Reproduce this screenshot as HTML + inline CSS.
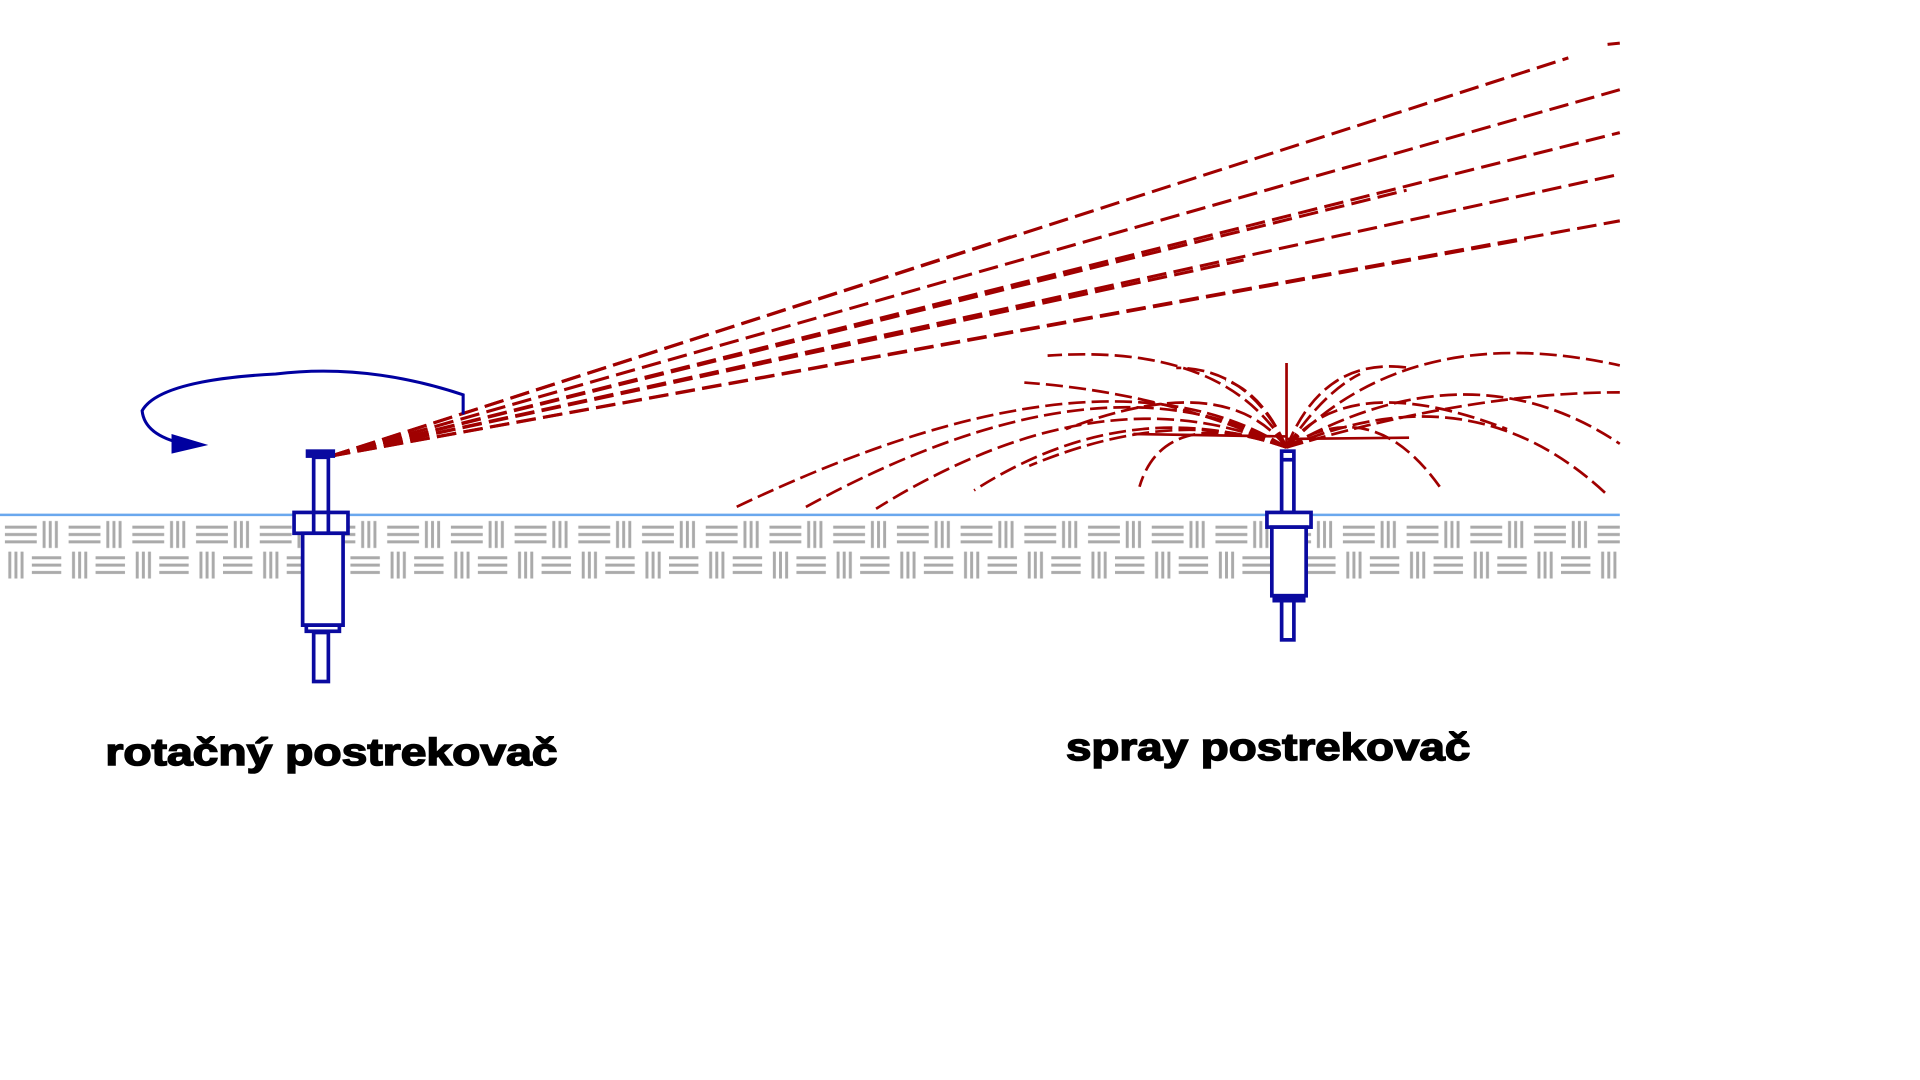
<!DOCTYPE html>
<html><head><meta charset="utf-8"><style>
html,body{margin:0;padding:0;background:#fff;width:1920px;height:1080px;overflow:hidden}
svg{display:block}
</style></head><body>
<svg width="1920" height="1080" viewBox="0 0 1567 881" xmlns="http://www.w3.org/2000/svg">
<defs>
<pattern id="soil" x="0" y="422" width="52" height="52" patternUnits="userSpaceOnUse">
 <g stroke="#aaaaaa" stroke-width="2.4">
  <line x1="4" y1="8" x2="30" y2="8"/>
  <line x1="4" y1="14" x2="30" y2="14"/>
  <line x1="4" y1="20" x2="30" y2="20"/>
  <line x1="36" y1="3" x2="36" y2="25"/><line x1="41" y1="3" x2="41" y2="25"/><line x1="46" y1="3" x2="46" y2="25"/>
  <line x1="26" y1="33" x2="50" y2="33"/><line x1="26" y1="39" x2="50" y2="39"/><line x1="26" y1="45" x2="50" y2="45"/>
  <line x1="8" y1="28" x2="8" y2="50"/><line x1="13" y1="28" x2="13" y2="50"/><line x1="18" y1="28" x2="18" y2="50"/>
 </g>
</pattern>
</defs>
<rect x="0" y="422" width="1322" height="50" fill="url(#soil)"/>
<line x1="0" y1="420" x2="1322" y2="420" stroke="#6aa8ee" stroke-width="2"/>

<g stroke="#a00000" stroke-width="2.5" fill="none" stroke-dasharray="16 6">
 <line x1="270" y1="372" x2="1280" y2="47"/>
 <line x1="270" y1="372" x2="1322" y2="73"/>
 <line x1="270" y1="372" x2="1322" y2="108"/>
 <line x1="270" y1="372" x2="1322" y2="142"/>
 <line x1="270" y1="372" x2="1148" y2="155"/>
 <line x1="270" y1="372" x2="1322" y2="180"/>
 <line x1="270" y1="372" x2="1245" y2="195"/>
 <line x1="270" y1="372" x2="1015" y2="212"/>
 <line x1="270" y1="372" x2="825" y2="193"/>
</g>
<line x1="1312" y1="36" x2="1322" y2="35" stroke="#a00000" stroke-width="2.5"/>

<g stroke="#a00000" stroke-width="2.2" fill="none" stroke-dasharray="14 5">
 <path d="M1050,365 Q900,270 598,415"/>
 <path d="M1050,365 Q900,280 655,415"/>
 <path d="M1050,365 Q900,300 715,415"/>
 <path d="M1050,365 Q920,320 795,400"/>
 <path d="M1050,365 Q960,330 840,380"/>
 <path d="M1050,365 Q950,330 930,397"/>
 <path d="M1050,365 Q1120,320 1175,397"/>
 <path d="M1050,365 Q1200,300 1310,402"/>
 <path d="M1050,365 Q1200,280 1322,362"/>
 <path d="M1050,365 Q1150,260 1322,298"/>
 <path d="M1050,365 Q1000,280 855,290"/>
 <path d="M1050,365 Q1000,300 870,350"/>
 <path d="M1050,365 Q1080,290 1150,300"/>
 <path d="M1050,365 Q1100,300 1230,350"/>
 <path d="M1050,365 Q1020,300 960,300"/>
 <path d="M1050,365 Q1080,320 1110,305"/>
 <path d="M1050,365 Q1030,320 1000,310"/>
 <path d="M1050,365 Q1200,320 1322,320"/>
 <path d="M1050,365 Q950,320 836,312"/>
</g>
<g stroke="#a00000" stroke-width="2.2">
 <line x1="1050" y1="296" x2="1050" y2="365"/>
 <line x1="925" y1="354" x2="1050" y2="356"/>
 <line x1="1050" y1="358" x2="1150" y2="357"/>
</g>

<path d="M378,338 L378,322 Q300,296 225,305 Q130,310 116,335 Q118,355 150,362" stroke="#0000a0" stroke-width="2.5" fill="none"/>
<polygon points="140,354 170,363 140,370" fill="#0000a0"/>

<g stroke="#0a0aa0" stroke-width="3" fill="none">
 <rect x="251" y="368" width="21" height="4" fill="#0a0aa0"/>
 <rect x="256" y="373" width="12" height="45"/>
 <rect x="240" y="418" width="44" height="17" fill="#fff"/>
 <line x1="256" y1="418" x2="256" y2="435"/><line x1="268" y1="418" x2="268" y2="435"/>
 <rect x="247" y="435" width="33" height="75" fill="#fff"/>
 <rect x="250" y="510" width="27" height="5"/>
 <rect x="256" y="516" width="12" height="40"/>
</g>
<g stroke="#0a0aa0" stroke-width="3" fill="none">
 <rect x="1046" y="368" width="10" height="50"/>
 <line x1="1046" y1="375" x2="1056" y2="375"/>
 <rect x="1034" y="418" width="36" height="12" fill="#fff"/>
 <rect x="1038" y="430" width="28" height="56" fill="#fff"/>
 <rect x="1040" y="486" width="24" height="4" fill="#0a0aa0"/>
 <rect x="1046" y="490" width="10" height="32"/>
</g>

<text x="86" y="624" font-family="Liberation Sans, sans-serif" font-weight="bold" font-size="31" stroke="#000" stroke-width="1.2" textLength="369" lengthAdjust="spacingAndGlyphs" fill="#000">rotačný postrekovač</text>
<text x="870" y="620" font-family="Liberation Sans, sans-serif" font-weight="bold" font-size="31" stroke="#000" stroke-width="1.2" textLength="330" lengthAdjust="spacingAndGlyphs" fill="#000">spray postrekovač</text>
</svg>
</body></html>
